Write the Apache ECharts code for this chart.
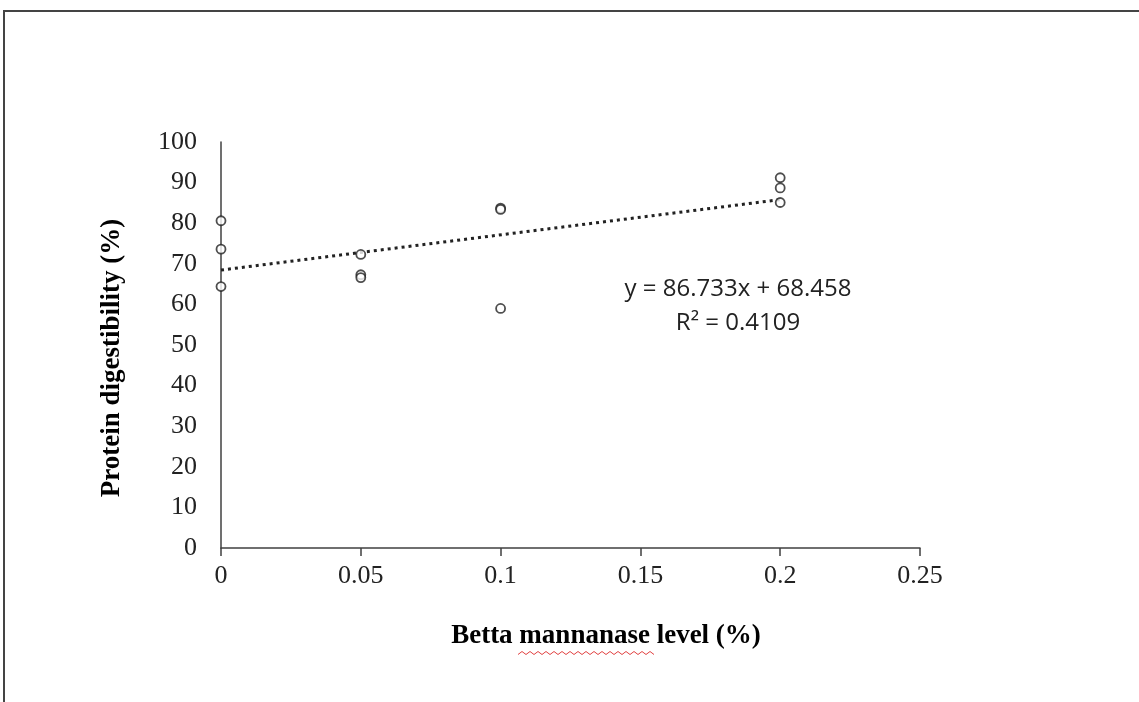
<!DOCTYPE html>
<html>
<head>
<meta charset="utf-8" />
<title>Protein digestibility</title>
<script src="https://cdn.jsdelivr.net/npm/echarts@6/dist/echarts.min.js"></script>
<style>
	html, body { margin: 0; padding: 0; background: #fff; }
	#chart { width: 1139px; height: 702px; }
</style>
</head>
<body>
<div id="chart"></div>
<script type="text/javascript">
	// points
	var levels = [0, 0, 0, 0.05, 0.05, 0.05, 0.1, 0.1, 0.1, 0.2, 0.2, 0.2];
	var digestibility = [80.6, 73.6, 64.4, 72.3, 67.3, 66.6, 83.7, 83.4, 59.0, 91.2, 88.7, 85.1];
	// fitted line as printed on the figure
	var slope = 86.733;
	var intercept = 68.458;
	var trendX = [0, 0.2];
	var xTicks = [0, 0.05, 0.1, 0.15, 0.2, 0.25];

	var points = levels.map(function (x, i) { return [x, digestibility[i]]; });
	var trend = trendX.map(function (x) { return [x, slope * x + intercept]; });

	var myChart = echarts.init(document.getElementById('chart'));
	var serif = '"Liberation Serif", "Times New Roman", serif';
	var sans = '"Open Sans", "Liberation Sans", sans-serif';

	// red spell-check squiggle under "mannanase"
	var wave = [];
	for (var i = 0; i <= 34; i++) {
		wave.push([518 + i * 4, 653 + (i % 2 ? -1.5 : 1.5)]);
	}

	var option = {
		animation: false,
		grid: { left: 221, right: 219, top: 142, bottom: 154 },
		xAxis: {
			type: 'value',
			min: 0, max: 0.25, interval: 0.05,
			axisLine: { lineStyle: { color: '#404040', width: 1.5 } },
			axisTick: { show: true, length: 8, lineStyle: { color: '#404040', width: 1.5 } },
			splitLine: { show: false },
			axisLabel: {
				fontFamily: serif, fontSize: 26, color: '#222', margin: 15,
				formatter: function (v) {
					for (var k = 0; k < xTicks.length; k++) {
						if (Math.abs(v - xTicks[k]) < 1e-9) return String(xTicks[k]);
					}
					return '';
				}
			}
		},
		yAxis: {
			type: 'value',
			min: 0, max: 100, interval: 10,
			axisLine: { show: true, lineStyle: { color: '#404040', width: 1.5 } },
			axisTick: { show: false },
			splitLine: { show: false },
			axisLabel: { fontFamily: serif, fontSize: 26, color: '#222', margin: 24 }
		},
		series: [
			{
				type: 'scatter',
				data: points,
				symbol: 'circle',
				symbolSize: 9,
				itemStyle: { color: '#fff', borderColor: '#222', borderWidth: 1.8 },
				z: 3
			},
			{
				type: 'line',
				data: trend,
				symbol: 'none',
				lineStyle: { color: '#222', width: 3, type: [3, 4] },
				z: 2
			}
		],
		graphic: [
			{
				type: 'text', x: 606, y: 636,
				style: { text: 'Betta mannanase level (%)', font: 'bold 27px ' + serif, fill: '#000', align: 'center', verticalAlign: 'middle' }
			},
			{
				type: 'text', x: 112, y: 358, rotation: Math.PI / 2,
				style: { text: 'Protein digestibility (%)', font: 'bold 27px ' + serif, fill: '#000', align: 'center', verticalAlign: 'middle' }
			},
			{
				type: 'text', x: 738, y: 289,
				style: { text: 'y = 86.733x + 68.458', font: '24px ' + sans, fill: '#222', align: 'center', verticalAlign: 'middle' }
			},
			{
				type: 'text', x: 738, y: 323,
				style: { text: 'R² = 0.4109', font: '24px ' + sans, fill: '#222', align: 'center', verticalAlign: 'middle' }
			},
			{
				type: 'polyline',
				shape: { points: wave },
				style: { stroke: '#e04040', lineWidth: 1, fill: null }
			},
			{
				type: 'line',
				shape: { x1: 3, y1: 11, x2: 1139, y2: 11 },
				style: { stroke: '#444', lineWidth: 2 }
			},
			{
				type: 'line',
				shape: { x1: 4, y1: 10, x2: 4, y2: 702 },
				style: { stroke: '#444', lineWidth: 2 }
			}
		]
	};
	myChart.setOption(option);
</script>
</body>
</html>
